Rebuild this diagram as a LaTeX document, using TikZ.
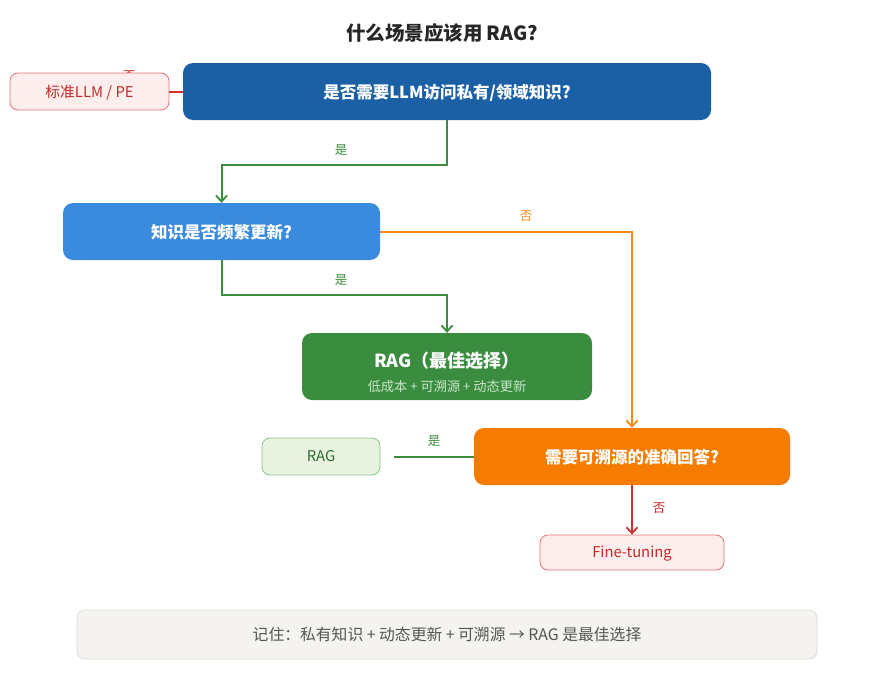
\documentclass[tikz,border=0pt]{standalone}
\usepackage{fontspec}
\setmainfont{Noto Sans CJK SC}
\usetikzlibrary{arrows.meta}
\definecolor{dblue}{HTML}{1B5FA5}
\definecolor{lblue}{HTML}{3A8BDD}
\definecolor{dgreen}{HTML}{3A8C3F}
\definecolor{orng}{HTML}{F57C00}
\definecolor{orngline}{HTML}{F58A1F}
\definecolor{redline}{HTML}{D32F2F}
\definecolor{pinkfill}{HTML}{FDEEEE}
\definecolor{pinkdraw}{HTML}{E57373}
\definecolor{redtext}{HTML}{C62828}
\definecolor{lgfill}{HTML}{E8F3DF}
\definecolor{lgdraw}{HTML}{8BC48A}
\definecolor{lgtext}{HTML}{2E6B30}
\definecolor{notefill}{HTML}{F4F3EF}
\definecolor{notedraw}{HTML}{DDDCD6}
\definecolor{notetext}{HTML}{555555}
\definecolor{subgreen}{HTML}{C8E6C9}
\tikzset{
  decision/.style={rounded corners=10pt, text=white, font=\fontsize{16.5}{19}\selectfont\bfseries, align=center, inner sep=0pt, text depth=1pt},
  outbox/.style={rounded corners=8pt, draw, line width=0.8pt, font=\fontsize{14.8}{17}\selectfont, inner sep=0pt, text depth=1pt},
  lbl/.style={font=\fontsize{12.5}{14}\selectfont},
  conn/.style={line width=2pt},
  tip/.style={-{Straight Barb[length=6pt,width=11pt,line width=1.8pt]}}
}
\begin{document}
\begin{tikzpicture}[x=1pt,y=-1pt]
\useasboundingbox (0,0) rectangle (875,688);
\node[font=\fontsize{19.5}{23}\selectfont\bfseries, text=black!85] (title) at (442,33) {什么场景应该用 RAG?};
% label partly hidden behind the box
\node[lbl, text=redtext] (lno1) at (129,76) {否};
\node[decision, fill=dblue, minimum width=528pt, minimum height=57pt] (b1) at (447,91.5) {是否需要LLM访问私有/领域知识?};
\node[outbox, fill=pinkfill, draw=pinkdraw, text=redtext, minimum width=159pt, minimum height=37pt] (std) at (89.5,91.5) {标准LLM / PE};
\node[decision, fill=lblue, minimum width=317pt, minimum height=57pt] (b2) at (221.5,231.5) {知识是否频繁更新?};
\node[decision, fill=dgreen, minimum width=290pt, minimum height=67pt] (b3) at (447,366.5) {};
\node[font=\fontsize{18}{21}\selectfont\bfseries, text=white] (b3t) at (447,361) {RAG（最佳选择）};
\node[font=\fontsize{13.2}{15}\selectfont, text=subgreen] (b3s) at (447,386) {低成本 + 可溯源 + 动态更新};
\node[decision, fill=orng, minimum width=316pt, minimum height=57pt] (b4) at (632,456.5) {需要可溯源的准确回答?};
\node[outbox, fill=lgfill, draw=lgdraw, text=lgtext, minimum width=118pt, minimum height=37pt] (rag) at (321,456.5) {RAG};
\node[outbox, fill=pinkfill, draw=pinkdraw, text=redtext, minimum width=184pt, minimum height=35pt] (ft) at (632,552.5) {Fine-tuning};
\node[rounded corners=8pt, draw=notedraw, fill=notefill, line width=0.8pt, minimum width=740pt, minimum height=49pt, text=notetext, text depth=1pt, font=\fontsize{15.8}{18}\selectfont] (note) at (447,634.5) {记住：私有知识 + 动态更新 + 可溯源 → RAG 是最佳选择};
% connectors
\draw[conn, redline] (b1.west) -- (std.east);
\draw[conn, dgreen, tip] (b1.south) -- ++(0,45) -| (b2.north);
\node[lbl, text=dgreen] (l1) at (341,150) {是};
\draw[conn, orngline, tip] (b2.east) -| (b4.north);
\node[lbl, text=orngline] (l2) at (526,216) {否};
\draw[conn, dgreen, tip] (b2.south) -- ++(0,35) -| (b3.north);
\node[lbl, text=dgreen] (l3) at (341,280) {是};
\draw[conn, dgreen, shorten >=14pt] (b4.west) -- (rag.east);
\node[lbl, text=dgreen] (l4) at (434,441) {是};
\draw[conn, redline, tip] (b4.south) -- (ft.north);
\node[lbl, text=redtext] (l5) at (659,508) {否};
\end{tikzpicture}
\end{document}
